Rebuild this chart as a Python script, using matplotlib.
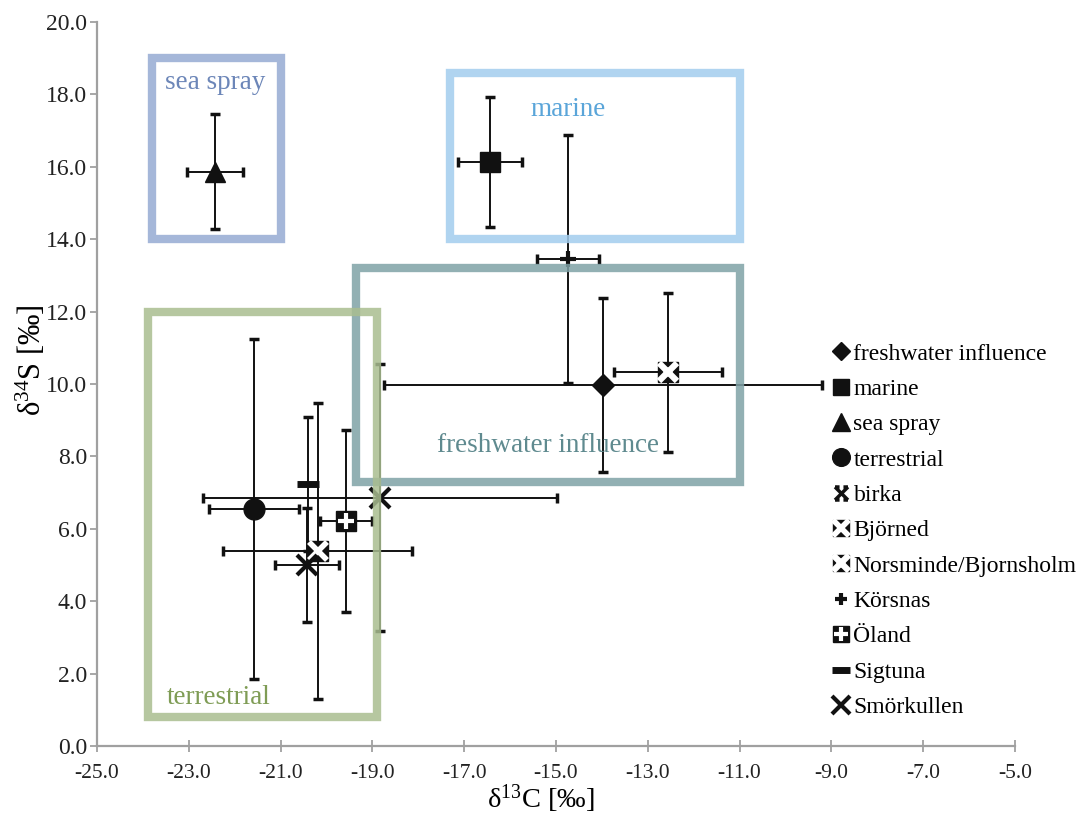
import matplotlib
matplotlib.use('Agg')
import matplotlib.pyplot as plt
import matplotlib.ticker as mticker
from matplotlib.patches import Rectangle
from matplotlib.lines import Line2D
from matplotlib.path import Path
import numpy as np

plt.rcParams['font.family'] = ['Liberation Serif', 'DejaVu Serif']
plt.rcParams['mathtext.fontset'] = 'custom'
plt.rcParams['mathtext.rm'] = 'Liberation Serif'
plt.rcParams['mathtext.it'] = 'Liberation Serif:italic'
plt.rcParams['axes.unicode_minus'] = False

# Group means and standard deviations
names = ['freshwater influence', 'marine', 'sea spray', 'terrestrial', 'birka', 'Björned',
         'Norsminde/Bjornsholm', 'Körsnas', 'Öland', 'Sigtuna', 'Smörkullen']
d13c = [-13.97, -16.44, -22.43, -21.58, -18.83, -20.19, -12.56, -14.74, -19.58, -20.40, -20.42]
d13c_sd = [4.77, 0.70, 0.61, 0.99, 3.86, 2.06, 1.17, 0.68, 0.57, 0.0, 0.70]
d34s = [9.97, 16.13, 15.86, 6.55, 6.86, 5.39, 10.32, 13.45, 6.22, 7.24, 5.00]
d34s_sd = [2.40, 1.80, 1.59, 4.70, 3.68, 4.09, 2.20, 3.43, 2.51, 1.85, 1.57]

# Source zones (boxes)
zones = ['sea spray', 'marine', 'freshwater influence', 'terrestrial']
zone_c13 = [(-23.8, -21.0), (-17.3, -11.0), (-19.35, -11.0), (-23.9, -18.9)]
zone_s34 = [(14.0, 19.0), (14.0, 18.6), (7.3, 13.2), (0.8, 12.0)]

xticks = np.arange(-25, -4, 2)
yticks = np.arange(0, 21, 2)

zone_colors = ['#95abd3', '#a3cdee', '#7fa2a6', '#a9bd90']
zone_text_colors = ['#6c86b8', '#5aa5d9', '#5f8a8f', '#7f9c55']
zone_text_pos = [(-22.43, 18.34), (-14.74, 17.57), (-15.17, 8.29), (-22.34, 1.35)]

birka_path = Path([(-1, -1), (1, 1), (-1, 1), (1, -1),
                   (-1, 1), (-0.3, 1), (0.3, 1), (1, 1),
                   (-1, -1), (-0.3, -1), (0.3, -1), (1, -1)],
                  [Path.MOVETO, Path.LINETO, Path.MOVETO, Path.LINETO,
                   Path.MOVETO, Path.LINETO, Path.MOVETO, Path.LINETO,
                   Path.MOVETO, Path.LINETO, Path.MOVETO, Path.LINETO])

k = '#111111'
styles = {
    'freshwater influence': [dict(marker='D', ms=11, mfc=k, mec=k)],
    'marine': [dict(marker='s', ms=14, mfc=k, mec=k)],
    'sea spray': [dict(marker='^', ms=15, mfc=k, mec=k)],
    'terrestrial': [dict(marker='o', ms=15, mfc=k, mec=k)],
    'birka': [dict(marker='x', ms=15, mew=3, mec=k)],
    'Björned': [dict(marker='s', ms=14, mfc=k, mec=k),
                dict(marker='x', ms=13, mew=4, mec='white')],
    'Norsminde/Bjornsholm': [dict(marker='s', ms=14, mfc=k, mec=k),
                             dict(marker='x', ms=13, mew=4.5, mec='white')],
    'Körsnas': [dict(marker='+', ms=11, mew=3, mec=k)],
    'Öland': [dict(marker='s', ms=14, mfc=k, mec=k),
              dict(marker='+', ms=12, mew=3, mec='white')],
    'Sigtuna': [dict(marker='_', ms=16, mew=5, mec=k)],
    'Smörkullen': [dict(marker='x', ms=15, mew=3, mec=k)],
}
legend_styles = dict(styles)
legend_styles['birka'] = [dict(marker=birka_path, ms=11, mew=2.5, mec=k)]

fig = plt.figure(figsize=(10.83, 8.23), dpi=100)
ax = fig.add_axes([0.0896, 0.0936, 0.8476, 0.8797])

for i, name in enumerate(names):
    xe = d13c_sd[i] if d13c_sd[i] > 0 else None
    ax.errorbar(d13c[i], d34s[i], xerr=xe, yerr=d34s_sd[i], fmt='none', ecolor=k,
                elinewidth=1.4, capsize=3.5, capthick=2.5, zorder=2)
    for layer in styles[name]:
        ax.plot(d13c[i], d34s[i], linestyle='none', zorder=3, **layer)

for zone, (x0, x1), (y0, y1), col, tcol, (tx, ty) in zip(zones, zone_c13, zone_s34, zone_colors,
                                                          zone_text_colors, zone_text_pos):
    ax.add_patch(Rectangle((x0, y0), x1 - x0, y1 - y0, fill=False, ec=col, lw=6,
                           alpha=0.85, joinstyle='miter', zorder=4))
    ax.text(tx, ty, zone, color=tcol, fontsize=19.5, ha='center', va='center', zorder=5)

ax.set_xlim(-25, -5)
ax.set_ylim(0, 20)
ax.set_xticks(xticks)
ax.set_yticks(yticks)
ax.xaxis.set_major_formatter(mticker.StrMethodFormatter('{x:.1f}'))
ax.yaxis.set_major_formatter(mticker.StrMethodFormatter('{x:.1f}'))
for side in ['top', 'right']:
    ax.spines[side].set_visible(False)
for side in ['left', 'bottom']:
    ax.spines[side].set_color('#a0a0a0')
    ax.spines[side].set_linewidth(1.6)
ax.tick_params(axis='x', direction='inout', length=8, width=1.3, color='#a0a0a0',
               labelsize=15.5, labelcolor='#222222', pad=9)
ax.tick_params(axis='y', direction='out', length=5, width=1.3, color='#a0a0a0',
               labelsize=17, labelcolor='#222222', pad=2)

ax.set_xlabel('δ$^{13}$C [‰]', fontsize=20.5)
ax.set_ylabel('δ$^{34}$S [‰]', fontsize=22)
ax.xaxis.set_label_coords(0.483, -0.05)
ax.yaxis.set_label_coords(-0.053, 0.533)

handles = []
for name in names:
    lay = legend_styles[name]
    hs = []
    for layer in lay:
        l = dict(layer)
        l['ms'] = l['ms'] * 0.85
        hs.append(Line2D([], [], linestyle='none', **l))
    handles.append(tuple(hs) if len(hs) > 1 else hs[0])
ax.legend(handles, names, loc='upper left', bbox_to_anchor=(0.768, 0.583),
          bbox_transform=fig.transFigure, frameon=False, fontsize=17,
          handlelength=0.8, handletextpad=0.12, labelspacing=0.585, borderpad=0,
          borderaxespad=0)

fig.savefig('out.png', dpi=100)
